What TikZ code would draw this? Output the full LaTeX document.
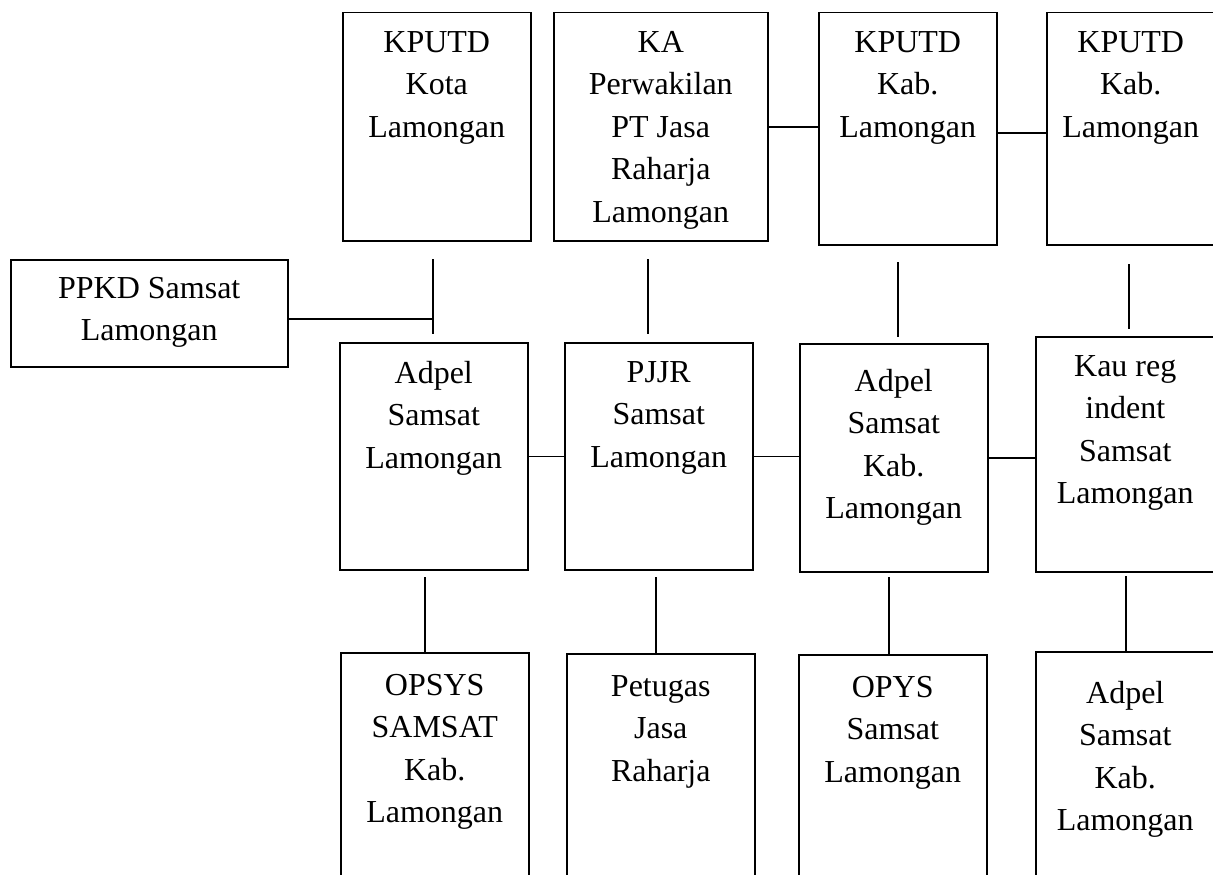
\documentclass[tikz,border=0pt]{standalone}
\usepackage{fontspec}
\setmainfont{Liberation Serif}
\usetikzlibrary{positioning}

\begin{document}
\begin{tikzpicture}[x=1pt,y=-1pt,
	kotak/.style={draw,line width=1.5pt,inner sep=0pt,anchor=north west},
	isi/.style={align=center,anchor=north,inner sep=0pt,font=\fontsize{32}{42.5}\selectfont},
	garis/.style={line width=1.5pt}]
	\useasboundingbox (0,0) rectangle (1213,875);
	\clip (0,0) rectangle (1213,875);
	% baris atas
	\node[kotak,minimum width=188pt,minimum height=228pt] (kputdkota) at (342,12) {};
	\node[kotak,minimum width=214pt,minimum height=228pt] (perwakilan) at (553,12) {};
	\node[kotak,minimum width=178pt,minimum height=232pt] (kputdkabA) at (818,12) {};
	\node[kotak,minimum width=168pt,minimum height=232pt] (kputdkabB) at (1046,12) {};
	\node[isi] (tkputdkota) at ([yshift=-19pt]kputdkota.north) {KPUTD\\Kota\\Lamongan};
	\node[isi] (tperwakilan) at ([yshift=-19pt]perwakilan.north) {KA\\Perwakilan\\PT Jasa\\Raharja\\Lamongan};
	\node[isi] (tkputdkabA) at ([yshift=-19pt]kputdkabA.north) {KPUTD\\Kab.\\Lamongan};
	\node[isi] (tkputdkabB) at ([yshift=-19pt]kputdkabB.north) {KPUTD\\Kab.\\Lamongan};
	% kotak kiri
	\node[kotak,minimum width=277pt,minimum height=107pt] (ppkd) at (10,259) {};
	\node[isi] (tppkd) at ([yshift=-18pt]ppkd.north) {PPKD Samsat\\Lamongan};
	% baris tengah
	\node[kotak,minimum width=188pt,minimum height=227pt] (adpelkota) at (339,342) {};
	\node[kotak,minimum width=188pt,minimum height=227pt] (pjjr) at (564,342) {};
	\node[kotak,minimum width=188pt,minimum height=228pt] (adpelkab) at (799,343) {};
	\node[kotak,minimum width=179pt,minimum height=235pt] (kaureg) at (1035,336) {};
	\node[isi] (tadpelkota) at ([yshift=-19pt]adpelkota.north) {Adpel\\Samsat\\Lamongan};
	\node[isi] (tpjjr) at ([yshift=-19pt]pjjr.north) {PJJR\\Samsat\\Lamongan};
	\node[isi] (tadpelkab) at ([yshift=-26pt]adpelkab.north) {Adpel\\Samsat\\Kab.\\Lamongan};
	\node[isi] (tkaureg) at ([yshift=-19pt]kaureg.north) {Kau reg\\indent\\Samsat\\Lamongan};
	% baris bawah
	\node[kotak,minimum width=188pt,minimum height=260pt] (opsys) at (340,652) {};
	\node[kotak,minimum width=188pt,minimum height=260pt] (petugas) at (566,653) {};
	\node[kotak,minimum width=188pt,minimum height=260pt] (opys) at (798,654) {};
	\node[kotak,minimum width=179pt,minimum height=260pt] (adpelbawah) at (1035,651) {};
	\node[isi] (topsys) at ([yshift=-22pt]opsys.north) {OPSYS\\SAMSAT\\Kab.\\Lamongan};
	\node[isi] (tpetugas) at ([yshift=-22pt]petugas.north) {Petugas\\Jasa\\Raharja};
	\node[isi] (topys) at ([yshift=-22pt]opys.north) {OPYS\\Samsat\\Lamongan};
	\node[isi] (tadpelbawah) at ([yshift=-30pt]adpelbawah.north) {Adpel\\Samsat\\Kab.\\Lamongan};
	% garis antar baris atas dan tengah
	\coordinate (naikA) at (433,259);
	\coordinate (turunA) at (433,334);
	\coordinate (naikB) at (648,259);
	\coordinate (turunB) at (648,334);
	\coordinate (naikC) at (898,262);
	\coordinate (turunC) at (898,337);
	\coordinate (naikD) at (1129,264);
	\coordinate (turunD) at (1129,329);
	\draw[garis] (naikA) -- (turunA);
	\draw[garis] (naikB) -- (turunB);
	\draw[garis] (naikC) -- (turunC);
	\draw[garis] (naikD) -- (turunD);
	\coordinate (cabang) at (433,319);
	\draw[garis] (ppkd.east |- cabang) -- (cabang);
	% garis mendatar
	\draw[garis] (perwakilan.east) -- (perwakilan.east -| kputdkabA.west);
	\draw[garis] ([yshift=-4pt]kputdkabA.east) -- ([yshift=-4pt]kputdkabA.east -| kputdkabB.west);
	\draw[garis] (adpelkota.east) -- (adpelkota.east -| pjjr.west);
	\draw[garis] (pjjr.east) -- (pjjr.east -| adpelkab.west);
	\draw[garis] (adpelkab.east) -- (adpelkab.east -| kaureg.west);
	% garis ke baris bawah
	\coordinate (pangkalA) at (425,577);
	\coordinate (pangkalB) at (656,577);
	\coordinate (pangkalC) at (889,577);
	\coordinate (pangkalD) at (1126,576);
	\draw[garis] (pangkalA) -- (pangkalA |- opsys.north);
	\draw[garis] (pangkalB) -- (pangkalB |- petugas.north);
	\draw[garis] (pangkalC) -- (pangkalC |- opys.north);
	\draw[garis] (pangkalD) -- (pangkalD |- adpelbawah.north);
\end{tikzpicture}
\end{document}
